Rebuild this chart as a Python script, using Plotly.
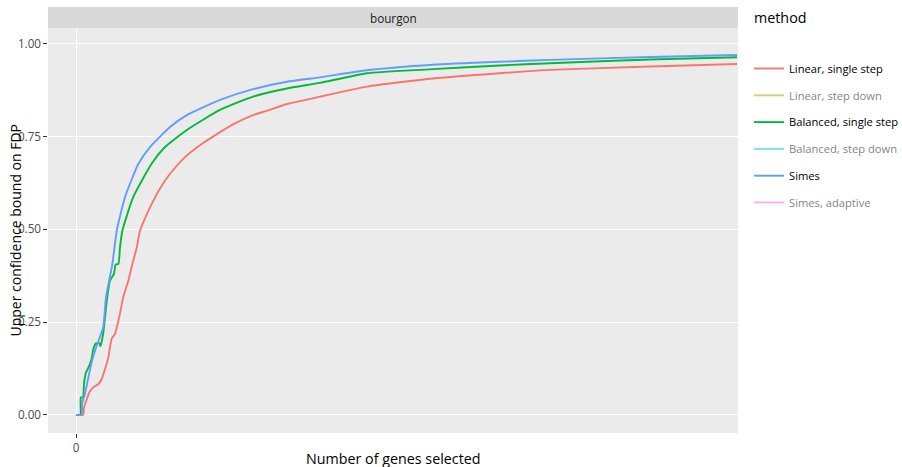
import plotly.graph_objects as go

# ---- data ----
methods = ["Linear, single step", "Linear, step down", "Balanced, single step",
           "Balanced, step down", "Simes", "Simes, adaptive"]
colors = ["#F8766D", "#B79F00", "#00BA38", "#00BFC4", "#619CFF", "#F564E3"]
visible_methods = ["Linear, single step", "Balanced, single step", "Simes"]

linear_x = [0, 36, 40, 54, 66, 86, 112, 128, 145, 162, 178, 195, 208, 220, 236, 262, 282, 304, 320,
            345, 380, 420, 470, 545, 620, 685, 785, 885, 955, 1055, 1155, 1220, 1454, 1785, 2120,
            2370, 2870, 3305]
linear_y = [0, 0, 0.02, 0.042, 0.06, 0.074, 0.083, 0.096, 0.123, 0.155, 0.205, 0.218, 0.245, 0.273,
            0.317, 0.362, 0.407, 0.452, 0.497, 0.53, 0.57, 0.61, 0.65, 0.695, 0.727, 0.75, 0.783,
            0.808, 0.82, 0.838, 0.85, 0.858, 0.885, 0.907, 0.921, 0.930, 0.939, 0.946]

balanced_x = [0, 22, 24, 35, 40, 50, 66, 78, 86, 98, 116, 122, 136, 145, 156, 170, 190, 198, 212,
              220, 232, 286, 378, 445, 554, 720, 885, 1054, 1220, 1454, 1785, 2120, 2370, 2870, 3305]
balanced_y = [0, 0, 0.047, 0.047, 0.084, 0.114, 0.132, 0.151, 0.176, 0.192, 0.193, 0.185, 0.219,
              0.263, 0.317, 0.362, 0.38, 0.405, 0.407, 0.452, 0.497, 0.587, 0.677, 0.722, 0.768,
              0.822, 0.858, 0.880, 0.895, 0.921, 0.932, 0.942, 0.948, 0.958, 0.964]

simes_x = [0, 28, 30, 45, 62, 78, 95, 116, 136, 150, 165, 182, 204, 245, 312, 370, 470, 554, 720,
           885, 1054, 1220, 1454, 1785, 2120, 2370, 2870, 3305]
simes_y = [0, 0, 0.03, 0.057, 0.101, 0.141, 0.173, 0.205, 0.236, 0.317, 0.36, 0.407, 0.497, 0.587,
           0.677, 0.722, 0.776, 0.808, 0.849, 0.878, 0.898, 0.910, 0.929, 0.944, 0.952, 0.957,
           0.965, 0.970]

series = {
    "Linear, single step": (linear_x, linear_y),
    "Linear, step down": (linear_x, linear_y),
    "Balanced, single step": (balanced_x, balanced_y),
    "Balanced, step down": (balanced_x, balanced_y),
    "Simes": (simes_x, simes_y),
    "Simes, adaptive": (simes_x, simes_y),
}

y_ticks = [0, 0.25, 0.5, 0.75, 1.0]
y_ticklabels = ["0.00", "0.25", "0.50", "0.75", "1.00"]
x_ticks = [0]
x_ticklabels = ["0"]
strip_label = "bourgon"

FONT = "Open Sans"
W, H = 902, 467

fig = go.Figure()
for m, c in zip(methods, colors):
    xs, ys = series[m]
    fig.add_trace(go.Scatter(
        x=xs, y=ys, mode="lines", name=m, legendgroup=m,
        line=dict(color=c, width=1.9, shape="spline", smoothing=0.5),
        visible=True if m in visible_methods else "legendonly",
        hoverinfo="x+y+name",
    ))

fig.update_layout(
    width=W, height=H,
    margin=dict(l=48, r=164, t=28, b=34, autoexpand=False),
    paper_bgcolor="white",
    plot_bgcolor="#EBEBEB",
    font=dict(family=FONT, color="#000000", size=11.7),
    showlegend=True,
    legend=dict(
        xref="container", yref="container",
        x=749 / W, xanchor="left", y=1 - 54 / H, yanchor="top",
        bgcolor="rgba(255,255,255,0)",
        font=dict(family=FONT, size=11.2, color="#000000"),
        tracegroupgap=7.8,
        itemwidth=30,
    ),
    xaxis=dict(
        range=[-140, 3310], tickvals=x_ticks, ticktext=x_ticklabels,
        showgrid=True, gridcolor="white", gridwidth=1, zeroline=False,
        ticks="outside", ticklen=3.65, tickwidth=0.66, tickcolor="#333333",
        tickfont=dict(family=FONT, size=11.7, color="#4D4D4D"),
        showline=False, fixedrange=True, automargin=False,
    ),
    yaxis=dict(
        range=[-0.049, 1.043], tickvals=y_ticks, ticktext=y_ticklabels,
        showgrid=True, gridcolor="white", gridwidth=1, zeroline=False,
        ticks="outside", ticklen=3.65, tickwidth=0.66, tickcolor="#333333",
        tickfont=dict(family=FONT, size=11.7, color="#4D4D4D"),
        showline=False, fixedrange=True, automargin=False,
    ),
    shapes=[dict(type="rect", xref="paper", yref="paper", x0=0, x1=1, y0=1, y1=1 + 21 / 405,
                 fillcolor="#D9D9D9", line=dict(width=0), layer="below")],
    annotations=[
        dict(text=strip_label, xref="paper", yref="paper", x=0.5, y=1 + 10.5 / 405,
             xanchor="center", yanchor="middle", showarrow=False,
             font=dict(family=FONT, size=11.7, color="#1A1A1A")),
        dict(text="Number of genes selected", xref="paper", yref="paper", x=0.5, y=-25 / 405,
             xanchor="center", yanchor="middle", showarrow=False,
             font=dict(family=FONT, size=14.3, color="#000000")),
        dict(text="Upper confidence bound on FDP", xref="paper", yref="paper",
             x=-33 / 690, y=0.5, xanchor="center", yanchor="middle", textangle=-90,
             showarrow=False, font=dict(family=FONT, size=14.0, color="#000000")),
        dict(text="method", xref="paper", yref="paper", x=(752 - 48) / 690, y=(433 - 18) / 405,
             xanchor="left", yanchor="middle", showarrow=False,
             font=dict(family=FONT, size=14.3, color="#000000")),
    ],
)

fig.write_html("out.html", config=dict(displayModeBar=False),
               post_script="document.body.style.margin='0';document.body.style.overflow='hidden';")
